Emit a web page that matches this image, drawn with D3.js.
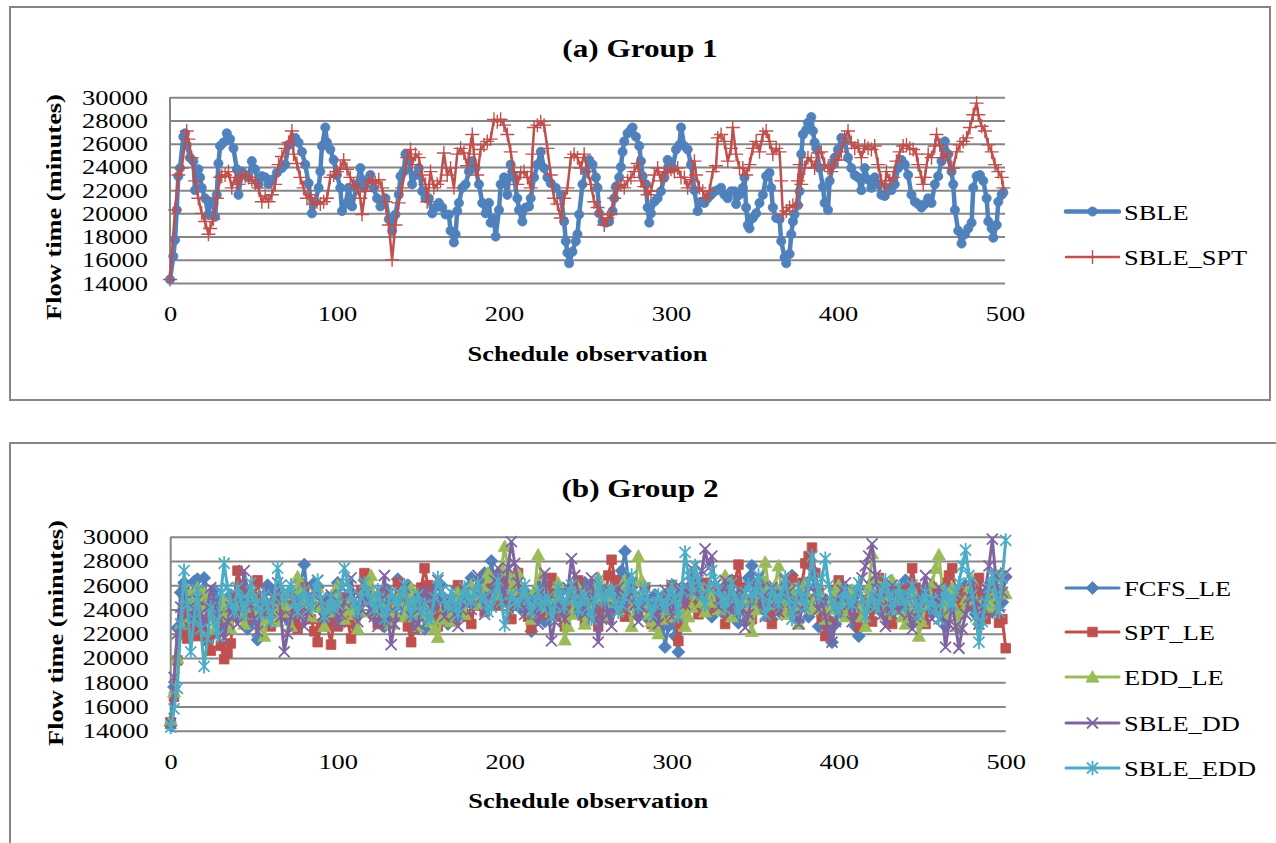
<!DOCTYPE html>
<html>
<head>
<meta charset="utf-8">
<script src="https://cdn.jsdelivr.net/npm/d3@7"></script>
<style>
  body { margin: 0; background: #fff; }
  text { font-family: "Liberation Serif", "Times New Roman", serif; fill: #000; }
</style>
</head>
<body>
<svg id="chart" width="1276" height="843"></svg>
<script>
// ---- data ----
var xTicks = [0, 100, 200, 300, 400, 500]
  , yTicks = [14000, 16000, 18000, 20000, 22000, 24000, 26000, 28000, 30000]

// Group 1: [observation, flow time]
var sble = [[0,14300],[2,16300],[3,17700],[4,20300],[5,23200],[6,23900],[8,26600],[9,26900],[10,25900],[12,24800],[14,24500],[15,22000],[17,23800],[18,23100],[19,22200],[21,21300],[23,19900],[24,21000],[26,20800],[27,19700],[28,21600],[29,24300],[30,25800],[32,26100],[34,26900],[36,26400],[38,25600],[40,23800],[41,21600],[43,23600],[45,23300],[47,23100],[49,24500],[51,23800],[53,22500],[55,23200],[57,23100],[59,22500],[61,22900],[64,23500],[67,23900],[69,24200],[71,25900],[73,26100],[75,26500],[77,26100],[79,25300],[81,24200],[83,22600],[85,20000],[87,21000],[89,22200],[90,23600],[91,25800],[93,27400],[94,26100],[96,25500],[98,24600],[100,23300],[102,22200],[103,20200],[105,20800],[107,22200],[109,20600],[112,22500],[114,23900],[116,22200],[118,22900],[120,23300],[122,22200],[124,21300],[126,20600],[129,21300],[131,19500],[133,18500],[135,19900],[137,21600],[138,23200],[140,23600],[141,25100],[143,24600],[145,22500],[147,23300],[149,23900],[151,21900],[153,21300],[155,21300],[157,20000],[159,20500],[161,20900],[163,20500],[165,19900],[167,19900],[168,18500],[170,17500],[171,18200],[172,20200],[173,20900],[175,22200],[177,22500],[179,23600],[181,24500],[183,23900],[185,22500],[187,20900],[189,20000],[191,20900],[192,19200],[194,19500],[195,18000],[197,20300],[198,22500],[200,23100],[202,21600],[204,24200],[206,23100],[208,21300],[209,20300],[211,19300],[213,20500],[215,20600],[216,21300],[218,23100],[220,24200],[222,25300],[224,23900],[226,23100],[228,22600],[231,22200],[234,21600],[236,19300],[237,17600],[238,16600],[239,15700],[241,16700],[243,17600],[244,18200],[245,19900],[247,22500],[249,23600],[251,24600],[253,24200],[255,23100],[256,22200],[257,20000],[259,19300],[261,19200],[263,19300],[265,20200],[266,21300],[267,22300],[269,23100],[270,24000],[271,25300],[272,26200],[274,26900],[276,27200],[277,27400],[279,26600],[281,25800],[282,24500],[283,23200],[285,22500],[286,20500],[287,19200],[288,20000],[290,21000],[292,21300],[294,21900],[296,23100],[298,24600],[301,23900],[303,25500],[305,25900],[306,27400],[308,25800],[310,25500],[312,24200],[314,22000],[316,20200],[318,21000],[320,20900],[322,21300],[324,21600],[326,21900],[328,22000],[330,22200],[332,21600],[334,21300],[336,21900],[338,21900],[339,20800],[341,21600],[343,22200],[344,23100],[345,20500],[346,19000],[347,18700],[349,19600],[351,20000],[353,20900],[355,21600],[357,23200],[359,23500],[360,22200],[361,20500],[363,19600],[365,19500],[366,17600],[368,16200],[369,15700],[371,16500],[372,18200],[373,19300],[374,19900],[376,20700],[377,21900],[378,25100],[379,26800],[381,27200],[382,27800],[384,28300],[385,27100],[386,26100],[387,25600],[389,23900],[391,22300],[392,20900],[394,20300],[395,22800],[397,24200],[398,24800],[400,25500],[402,26500],[404,26200],[406,24800],[408,23900],[410,23300],[412,23100],[414,22000],[416,23900],[418,22900],[420,22200],[422,23100],[424,22500],[426,21600],[428,21500],[430,22200],[432,22000],[434,22500],[436,23900],[438,24600],[440,24200],[442,23300],[444,21600],[446,21000],[448,20800],[450,20500],[452,20800],[454,21300],[456,20900],[458,22500],[460,23200],[462,24500],[464,26200],[466,25100],[468,23600],[469,22500],[470,20300],[472,18500],[474,17400],[476,18200],[478,18700],[480,19200],[481,22200],[483,23200],[485,23300],[487,22800],[489,21300],[490,19300],[492,18700],[493,17900],[495,19000],[496,21000],[498,21600],[499,21800]]

var sbleSpt = [[0,14300],[3,20300],[5,23300],[7,23900],[10,27100],[11,26400],[13,24800],[15,22800],[17,21300],[19,20000],[21,19300],[23,18200],[24,18700],[26,19500],[28,21300],[30,23100],[31,23200],[33,23300],[35,23600],[37,22200],[39,23100],[41,22500],[43,23300],[45,23200],[47,23100],[49,22900],[51,22600],[53,22200],[55,21000],[57,21500],[59,21000],[61,21600],[63,22500],[65,24200],[67,24900],[69,25600],[71,26100],[73,27100],[74,25100],[76,24300],[78,23100],[80,22200],[82,21300],[84,21600],[86,20800],[88,21000],[90,20800],[92,21000],[94,21300],[96,23100],[98,23300],[100,23600],[102,23900],[104,24600],[106,23800],[108,23100],[110,22500],[112,22200],[114,21300],[115,19900],[117,21900],[119,22800],[121,22900],[123,22600],[125,22900],[127,22200],[129,21000],[131,19000],[133,16000],[135,19000],[137,20900],[139,22200],[142,24800],[144,25500],[145,24200],[147,25100],[149,24800],[151,23300],[153,22500],[154,21000],[156,23600],[158,22200],[160,22500],[162,22800],[164,25200],[166,23300],[168,23900],[170,22200],[172,25100],[174,25600],[176,25200],[178,24100],[180,25900],[181,26800],[182,25100],[184,23300],[186,25500],[188,25900],[190,26200],[192,26400],[194,28100],[196,27900],[198,28100],[200,27600],[202,26800],[204,25300],[206,23600],[208,22500],[210,23500],[212,23600],[214,23100],[216,22200],[217,25100],[218,27400],[220,27600],[222,27900],[224,27600],[226,25600],[228,23300],[230,21300],[232,20800],[234,19600],[236,21300],[238,22200],[240,24800],[242,25100],[244,24800],[246,23900],[248,25100],[250,23600],[252,22500],[254,21000],[256,20500],[258,19900],[260,19000],[262,19600],[264,19900],[266,21300],[268,22200],[270,22500],[272,22200],[274,22800],[276,23100],[278,23600],[280,24300],[282,22800],[284,22300],[286,21600],[288,21900],[290,23300],[292,23900],[294,22800],[296,23600],[298,23500],[300,23800],[302,23600],[304,23900],[306,23100],[308,23100],[310,22200],[312,22900],[314,24500],[315,23300],[317,22200],[319,21900],[321,21300],[323,21900],[325,23600],[327,24100],[328,26500],[330,26800],[332,26200],[334,24500],[336,25600],[337,27400],[339,25100],[341,23900],[343,23900],[345,23300],[347,24200],[349,25600],[351,26200],[353,25300],[355,26800],[357,27100],[359,26200],[361,25100],[363,25600],[365,25300],[366,22800],[367,19900],[369,20200],[371,20500],[373,20700],[375,20700],[376,22800],[377,24200],[378,22500],[380,23900],[382,24800],[384,24500],[386,23900],[388,25200],[390,25300],[392,24200],[394,23900],[396,23600],[398,24600],[400,24600],[402,25300],[404,26500],[406,27100],[408,26100],[410,25600],[412,25800],[414,24800],[416,25800],[418,25600],[420,25500],[422,25800],[424,24200],[426,22800],[428,22200],[429,23600],[431,22800],[433,23100],[435,24500],[437,25300],[439,25800],[441,25900],[443,25600],[445,25500],[447,25100],[448,24200],[450,23100],[451,22500],[452,23100],[454,25100],[456,24800],[458,25800],[459,26800],[461,25900],[463,24800],[465,25100],[467,23900],[469,23900],[471,25300],[473,25900],[475,26200],[477,26500],[479,27400],[481,28500],[483,29500],[484,28500],[486,27500],[488,27100],[490,25900],[492,25300],[494,24200],[496,23600],[498,23100],[499,22200]]

// Group 2: one value every 2 observations (0, 2, ... 500)
var obsGroup2 = d3.range(0, 501, 2)

var fcfsLe = [
  14400, 17600, 22500, 25400, 26200, 25000, 24800, 26300, 26500, 25200, 26600, 24600, 23800, 25600, 24800, 23000, 22600, 24000, 25200, 24200,
  23400, 25200, 24600, 22400, 23000, 24400, 21500, 23200, 24200, 26000, 25600, 24200, 23600, 25400, 24800, 23200, 22800, 24400, 25400, 26200,
  27700, 25000, 24200, 26200, 25800, 24000, 23200, 25000, 24600, 23400, 26200, 24400, 23000, 24200, 25400, 23600, 24000, 25400, 26400, 24800,
  23600, 24400, 25000, 23400, 22600, 25600, 24800, 23400, 26500, 24800, 23600, 26000, 25200, 23200, 24000, 25600, 22400, 24200, 25600, 24600,
  23800, 26000, 24900, 22800, 23200, 24800, 25800, 23600, 24400, 25800, 26600, 24600, 25200, 26400, 27000, 25800, 28000, 26400, 25400, 27200,
  26800, 25000, 24200, 26400, 25800, 24000, 23800, 25200, 22200, 23600, 24600, 26200, 23000, 24400, 26000, 23800, 24400, 25600, 22800, 24000,
  25400, 24200, 23600, 25000, 26200, 23800, 24800, 26000, 23000, 24400, 25600, 23400, 24200, 25800, 26400, 27200, 28800, 26600, 25800, 24200,
  23400, 24600, 25000, 23200, 23800, 25200, 22400, 23800, 20900, 22600, 23600, 21800, 20500, 22800, 24800, 25800, 26600, 24200, 24600, 25400,
  26000, 24600, 23400, 25000, 25600, 23800, 24400, 25800, 26400, 24200, 22900, 24600, 25800, 26600, 27600, 25200, 24400, 25600, 26200, 24600,
  23200, 24800, 25400, 23600, 24000, 25800, 26800, 24400, 23000, 24600, 25200, 23400, 24400, 25800, 22600, 23800, 24800, 22400, 21300, 22800,
  23800, 25000, 25400, 24000, 23400, 22600, 21800, 23400, 24600, 25600, 26200, 24400, 24000, 25400, 25600, 24000, 23200, 24600, 24800, 25800,
  26400, 24400, 22800, 24200, 25000, 23200, 23600, 25400, 25800, 24000, 24200, 23400, 22600, 24400, 25000, 24200, 23400, 25200, 26000, 25000,
  24200, 23600, 22800, 24600, 25400, 24400, 23800, 25000, 25600, 24600, 26700]

var sptLe = [
  14700, 16800, 19800, 22000, 23800, 21600, 22400, 23400, 21800, 22600, 23200, 21400, 20600, 22000, 22800, 21000, 19900, 20400, 21200, 24800,
  27200, 26000, 25600, 24200, 23400, 25000, 26400, 24600, 24000, 23200, 22600, 24000, 25200, 24400, 23600, 25000, 24800, 23400, 22400, 24200,
  25800, 24400, 23200, 22200, 21300, 22800, 24400, 22600, 21100, 23400, 22600, 24200, 25000, 23000, 21600, 22800, 24200, 25600, 27000, 25400,
  24600, 23600, 22800, 24600, 25400, 24000, 23000, 24800, 26200, 25200, 24400, 22600, 21300, 22400, 23800, 25800, 27400, 26000, 25000, 23400,
  22600, 23800, 24800, 23600, 23400, 25000, 26000, 24200, 24600, 23400, 22800, 24400, 25600, 24600, 23800, 25200, 26200, 25400, 24400, 26600,
  25800, 24600, 23200, 25400, 27000, 25600, 24600, 23400, 22400, 23800, 25200, 24400, 23600, 25000, 26600, 25200, 24200, 23400, 22600, 23800,
  24800, 25800, 26400, 24400, 23000, 24200, 25400, 23800, 22600, 23600, 24600, 26800, 28100, 26400, 25200, 24200, 23400, 24800, 26200, 25000,
  24000, 24800, 25800, 24200, 22800, 23600, 24600, 23800, 23200, 24800, 26000, 23400, 21400, 22800, 24400, 25200, 25800, 24400, 23600, 25000,
  26200, 25400, 24000, 24800, 25600, 24200, 22800, 23800, 25000, 26400, 27700, 25800, 24600, 23600, 23200, 24800, 26000, 25200, 24400, 23400,
  22800, 24200, 25400, 24600, 23800, 25200, 26600, 25000, 24200, 26200, 27800, 28400, 29100, 27000, 25400, 23200, 21800, 23000, 24600, 25600,
  26400, 25000, 23600, 24600, 25200, 23800, 22600, 23800, 24800, 24000, 23000, 24600, 26600, 25400, 24200, 23200, 22800, 24200, 25600, 24400,
  23400, 25600, 27400, 25800, 24600, 23600, 22800, 24400, 25800, 24800, 24000, 25400, 26200, 26800, 27400, 25400, 23800, 24600, 25600, 24800,
  24400, 25400, 26600, 24600, 23200, 24800, 25800, 24200, 22900, 23200, 20800]

var eddLe = [
  14900, 17200, 20000, 22800, 24600, 25600, 23400, 24800, 25800, 24400, 25400, 24600, 23800, 22400, 22600, 23800, 24800, 23400, 22400, 23600,
  24200, 23400, 22800, 24400, 25400, 24200, 23600, 22600, 21800, 23200, 24600, 23800, 23000, 24400, 25200, 23800, 22600, 24400, 26700, 25400,
  24800, 24000, 23400, 24600, 25800, 24200, 22600, 23800, 24400, 25200, 26000, 24600, 23200, 24000, 24800, 23600, 22400, 23800, 25600, 26000,
  26800, 25000, 23800, 24600, 25200, 23800, 22800, 23800, 24600, 25400, 23400, 24400, 25800, 24000, 22600, 23600, 24400, 23600, 23000, 22400,
  21700, 23200, 24200, 23800, 23000, 24400, 25400, 24600, 23600, 25000, 26000, 25200, 24400, 25600, 25800, 27000, 26600, 25400, 25200, 27400,
  29200, 27200, 25600, 26200, 27000, 25800, 24800, 24000, 23200, 25600, 28500, 26800, 25000, 24200, 23800, 24800, 26200, 23800, 21500, 22600,
  23600, 24800, 25800, 24200, 22800, 23600, 24400, 25600, 26600, 24800, 23400, 24600, 25600, 24800, 24000, 25200, 26400, 24600, 22600, 25200,
  28400, 26400, 24600, 23600, 23000, 22600, 22000, 23200, 24800, 24000, 23400, 24600, 25400, 23800, 22600, 23400, 24200, 25200, 26000, 24600,
  23800, 24800, 25600, 24600, 24000, 25400, 26800, 25000, 23400, 24400, 25200, 24000, 24600, 23200, 22200, 24000, 25800, 26600, 27900, 25800,
  24400, 26000, 27600, 25200, 23600, 24800, 25600, 24200, 22800, 24600, 26200, 25000, 24000, 24800, 25400, 24200, 23200, 24000, 24800, 25600,
  26000, 24600, 23400, 24800, 25600, 24800, 24200, 23400, 22600, 25800, 28600, 26600, 25200, 24200, 23600, 25000, 26400, 25000, 24000, 23400,
  22800, 24200, 25600, 23600, 21800, 23000, 24400, 25400, 26200, 27400, 28500, 25800, 23600, 24800, 25800, 24000, 22600, 23800, 24800, 25800,
  26400, 24800, 23200, 24200, 25000, 24600, 24200, 25600, 26800, 25800, 25300]

var sbleDd = [
  14600, 18400, 22000, 24200, 25400, 24000, 23000, 24000, 24800, 23600, 22600, 24200, 25800, 24600, 23400, 22400, 21600, 23000, 24200, 23400,
  22800, 25000, 27200, 25600, 24400, 23200, 22200, 23800, 25600, 24600, 23800, 25000, 26200, 23400, 20500, 22000, 23400, 24200, 25000, 23600,
  22600, 23800, 24800, 25600, 26400, 24600, 23200, 24200, 25200, 24000, 22800, 23600, 24600, 25400, 26600, 24800, 23000, 24000, 25400, 24600,
  24000, 23400, 22600, 24800, 26800, 23600, 21100, 22800, 24400, 25200, 25800, 24600, 23400, 22400, 22800, 24200, 25600, 24800, 24200, 25400,
  26400, 24800, 23400, 24200, 24800, 23600, 22600, 24000, 25400, 24600, 24000, 25400, 26800, 25000, 23600, 24600, 25600, 26400, 27400, 26200,
  24800, 27400, 29600, 27800, 26200, 24600, 23600, 24400, 25000, 23800, 22800, 25000, 27000, 24000, 21400, 23000, 24600, 23800, 23200, 25800,
  28200, 26800, 25400, 24400, 23600, 25000, 26600, 24200, 21300, 23200, 24800, 23600, 22600, 24200, 25800, 24600, 24000, 25000, 26200, 24400,
  23000, 24200, 25400, 24800, 24200, 23400, 22800, 24400, 25600, 24600, 23400, 24800, 26000, 25200, 24400, 25800, 27400, 26200, 25000, 27200,
  29000, 27400, 28400, 26000, 24200, 25400, 26400, 25000, 23800, 24600, 25600, 24000, 22500, 23600, 24800, 25800, 26600, 24800, 23400, 24600,
  25800, 24600, 23800, 25200, 26400, 25400, 24600, 23600, 22800, 24000, 25200, 26200, 27000, 25400, 24000, 24800, 23400, 22200, 21300, 23000,
  24600, 25600, 26200, 24400, 23000, 24200, 25400, 26600, 27600, 28400, 29400, 26800, 24800, 23600, 22600, 24400, 26000, 24800, 23800, 24400,
  25200, 23600, 22400, 23400, 24600, 25600, 26800, 24800, 23200, 24600, 25800, 23400, 20900, 22800, 24400, 22600, 20800, 22400, 23600, 25000,
  26400, 24600, 22800, 24200, 25800, 27600, 29800, 26800, 24200, 25400, 27000]

var sbleEdd = [
  14300, 15800, 17500, 22800, 27200, 24400, 20500, 23200, 25600, 22400, 19300, 21600, 24200, 23000, 21800, 25400, 27800, 25800, 24600, 23800,
  25800, 24800, 23600, 24800, 26200, 25000, 24400, 23600, 25200, 24200, 23000, 25000, 27400, 26000, 24800, 25400, 26000, 24600, 23800, 24800,
  25600, 24600, 24200, 25400, 26400, 24800, 23400, 24200, 25000, 24000, 24400, 25800, 27400, 26200, 25200, 24400, 23800, 25000, 26200, 25400,
  24800, 24000, 25600, 24400, 23200, 24200, 25400, 24800, 24200, 25200, 26000, 24600, 23600, 24400, 25200, 23800, 24400, 23200, 23400, 25000,
  26600, 25600, 24800, 24200, 25400, 24400, 23600, 24800, 25800, 25000, 24600, 25400, 26200, 24800, 25000, 23800, 24200, 25200, 26400, 24600,
  22700, 24000, 25200, 24600, 24400, 25200, 26000, 24800, 23800, 24600, 25400, 24200, 24600, 25000, 23400, 24400, 25800, 25000, 24200, 25200,
  26000, 24800, 24000, 24800, 25200, 24200, 23200, 24800, 26400, 25200, 24800, 25400, 25600, 24600, 23800, 24400, 25000, 26000, 26800, 25200,
  24200, 25000, 25800, 24600, 23600, 24400, 25200, 24600, 24000, 25000, 26000, 24800, 23400, 25600, 28700, 26800, 25400, 27600, 26400, 25200,
  24400, 25800, 27200, 26400, 25600, 24800, 24000, 25000, 26200, 25000, 23800, 24600, 25400, 26000, 24800, 25600, 26800, 25200, 23600, 24400,
  25600, 25000, 24400, 25400, 26600, 24800, 23200, 24400, 25800, 25000, 24200, 26200, 28400, 26400, 25000, 26600, 28200, 26000, 24600, 24200,
  23800, 24800, 25600, 24600, 24400, 25400, 26200, 24800, 23400, 24400, 25200, 24200, 24600, 25600, 26400, 25200, 24000, 24800, 25800, 25000,
  24200, 25200, 26000, 24600, 23600, 24800, 25400, 24200, 24800, 24000, 23200, 24600, 25600, 24800, 24400, 25400, 26200, 27600, 28900, 26800,
  25200, 23400, 21300, 23000, 24600, 25800, 26800, 25200, 23800, 26600, 29700]

// ---- style ----
var gray = '#868686'
  , stretch = 1.2
  , font = '"Liberation Serif", "Times New Roman", serif'
  , colors = { blue: '#4F81BD', red: '#C0504D', green: '#9BBB59', purple: '#8064A2', aqua: '#4BACC6' }

var pairUp = function(values) {
  return values.map(function(v, i) { return [obsGroup2[i], v] })
}

// marker outline centred on 0,0
var markerPath = function(shape, s) {
  if (shape === 'circle') return d3.symbol(d3.symbolCircle, Math.PI * s * s)()
  if (shape === 'diamond') return 'M0,' + (-s) + 'L' + s + ',0L0,' + s + 'L' + (-s) + ',0Z'
  if (shape === 'square') return 'M' + (-s) + ',' + (-s) + 'h' + 2 * s + 'v' + 2 * s + 'h' + (-2 * s) + 'Z'
  if (shape === 'triangle') return 'M0,' + (-s) + 'L' + s + ',' + s * 0.8 + 'L' + (-s) + ',' + s * 0.8 + 'Z'
  if (shape === 'plus') return 'M' + (-s) + ',0H' + s + 'M0,' + (-s) + 'V' + s
  if (shape === 'x') return 'M' + (-s) + ',' + (-s) + 'L' + s + ',' + s + 'M' + (-s) + ',' + s + 'L' + s + ',' + (-s)
  // star: x with a vertical bar
  return 'M' + (-s) + ',' + (-s) + 'L' + s + ',' + s + 'M' + (-s) + ',' + s + 'L' + s + ',' + (-s) + 'M0,' + (-s * 1.3) + 'V' + s * 1.3
}
var filledMarker = function(shape) { return ['circle', 'diamond', 'square', 'triangle'].indexOf(shape) >= 0 }

var styleMarker = function(sel, s) {
  var filled = filledMarker(s.marker)
  sel.attr('d', markerPath(s.marker, s.size))
    .attr('fill', filled ? s.color : 'none')
    .attr('stroke', s.color)
    .attr('stroke-width', filled ? 0.8 : s.markerStroke)
}

var svg = d3.select('#chart')
svg.append('rect').attr('width', 1276).attr('height', 843).attr('fill', '#fff')

var drawPanel = function(p) {
  var x = d3.scaleLinear().domain([0, 500]).range([p.left, p.right])
    , y = d3.scaleLinear().domain([14000, 30000]).range([p.bottom, p.top])
    , g = svg.append('g')

  // outer frame
  g.append('rect')
    .attr('x', p.frame[0]).attr('y', p.frame[1])
    .attr('width', p.frame[2]).attr('height', p.frame[3])
    .attr('fill', '#fff').attr('stroke', gray).attr('stroke-width', 2)

  // horizontal gridlines
  g.append('g')
    .attr('transform', 'translate(' + p.left + ',0)')
    .call(d3.axisLeft(y).tickValues(yTicks).tickSize(-(p.right - p.left)).tickFormat(''))
    .call(function(a) {
      a.select('.domain').remove()
      a.selectAll('line').attr('stroke', gray).attr('stroke-width', 2)
    })
  g.append('line')
    .attr('x1', p.left).attr('x2', p.left)
    .attr('y1', y(30000)).attr('y2', y(14000))
    .attr('stroke', gray).attr('stroke-width', 2)

  // tick labels
  var yAxis = g.append('g')
    .attr('transform', 'translate(' + p.left + ',0)')
    .call(d3.axisLeft(y).tickValues(yTicks).tickSize(0).tickPadding(22).tickFormat(d3.format('d')))
  var xAxis = g.append('g')
    .attr('transform', 'translate(0,' + p.bottom + ')')
    .call(d3.axisBottom(x).tickValues(xTicks).tickSize(0).tickPadding(p.xPad).tickFormat(d3.format('d')))
  ;[yAxis, xAxis].forEach(function(a) {
    a.select('.domain').remove()
    a.attr('font-family', font).attr('font-size', 22)
    a.selectAll('text').attr('fill', '#000')
  })

  // titles
  g.append('text')
    .attr('x', 640).attr('y', p.titleY)
    .attr('text-anchor', 'middle').attr('font-size', 26).attr('font-weight', 'bold')
    .text(p.title)
  g.append('text')
    .attr('x', (p.left + p.right) / 2).attr('y', p.xTitleY)
    .attr('text-anchor', 'middle').attr('font-size', 22).attr('font-weight', 'bold')
    .text('Schedule observation')
  g.append('text')
    .attr('transform', 'translate(' + p.yTitle[0] + ',' + p.yTitle[1] + ') rotate(-90)')
    .attr('text-anchor', 'middle').attr('font-size', 22).attr('font-weight', 'bold')
    .text('Flow time (minutes)')

  // series
  var line = d3.line()
    .x(function(d) { return x(d[0]) })
    .y(function(d) { return y(d[1]) })

  p.series.forEach(function(s) {
    g.append('path')
      .datum(s.data)
      .attr('d', line)
      .attr('fill', 'none')
      .attr('stroke', s.color)
      .attr('stroke-width', s.width)
      .attr('stroke-linejoin', 'round')
    g.append('g').selectAll('path')
      .data(s.data)
      .join('path')
      .attr('transform', function(d) { return 'translate(' + x(d[0]) + ',' + y(d[1]) + ')' })
      .call(styleMarker, s)
  })

  // legend
  p.series.forEach(function(s, i) {
    var ly = p.legendY[i]
      , lg = g.append('g').attr('transform', 'translate(1066,' + ly + ')')
    lg.append('line')
      .attr('x1', 0).attr('x2', 53)
      .attr('stroke', s.color).attr('stroke-width', s.width).attr('stroke-linecap', 'round')
    lg.append('path')
      .attr('transform', 'translate(26.5,0)')
      .call(styleMarker, s)
    lg.append('text')
      .attr('x', 58).attr('y', 8)
      .attr('font-size', 22)
      .text(s.name)
  })
}

drawPanel({
  frame: [10, 7, 1260, 393],
  left: 170, right: 1005, top: 97.3, bottom: 283,
  xPad: 22,
  title: '(a) Group 1', titleY: 57,
  xTitleY: 361,
  yTitle: [61, 207],
  legendY: [211.5, 257],
  series: [
    { name: 'SBLE', data: sble, color: colors.blue, width: 4.5, marker: 'circle', size: 4.6 },
    { name: 'SBLE_SPT', data: sbleSpt, color: colors.red, width: 2.5, marker: 'plus', size: 7, markerStroke: 1.4 }
  ]
})

drawPanel({
  frame: [10, 443, 1280, 420],
  left: 170.7, right: 1005.7, top: 536.7, bottom: 730.7,
  xPad: 23,
  title: '(b) Group 2', titleY: 497,
  xTitleY: 808,
  yTitle: [63, 633],
  legendY: [588, 632, 677, 723, 768],
  series: [
    { name: 'FCFS_LE', data: pairUp(fcfsLe), color: colors.blue, width: 3, marker: 'diamond', size: 6.5 },
    { name: 'SPT_LE', data: pairUp(sptLe), color: colors.red, width: 3, marker: 'square', size: 4.8 },
    { name: 'EDD_LE', data: pairUp(eddLe), color: colors.green, width: 3, marker: 'triangle', size: 6.5 },
    { name: 'SBLE_DD', data: pairUp(sbleDd), color: colors.purple, width: 3, marker: 'x', size: 5.5, markerStroke: 1.8 },
    { name: 'SBLE_EDD', data: pairUp(sbleEdd), color: colors.aqua, width: 3, marker: 'star', size: 5.5, markerStroke: 1.8 }
  ]
})

// the original text is drawn a little wider than the font
svg.selectAll('text').each(function() {
  var len = this.getComputedTextLength()
  d3.select(this).attr('textLength', len * stretch).attr('lengthAdjust', 'spacingAndGlyphs')
})
</script>
</body>
</html>
